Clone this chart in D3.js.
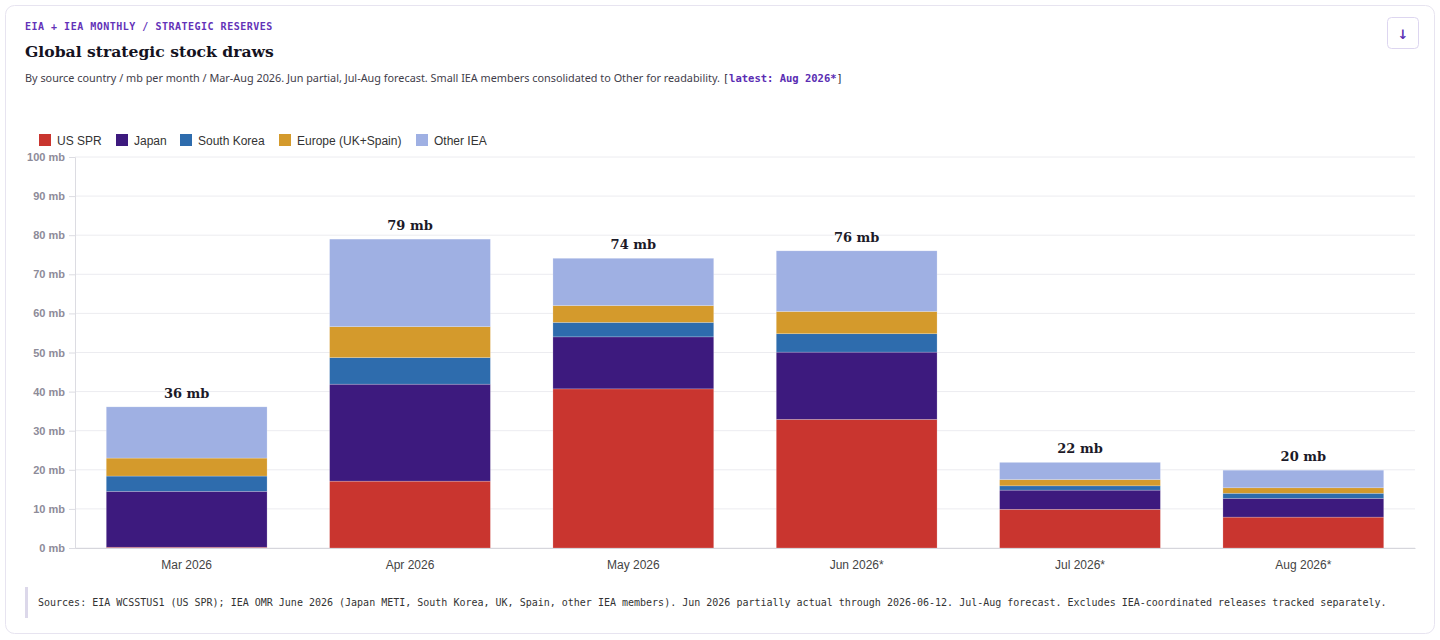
<!DOCTYPE html>
<html>
<head>
<meta charset="utf-8">
<script src="https://cdn.jsdelivr.net/npm/d3@7"></script>
<style>
  body { margin: 0; background: #fff; }
  svg { display: block; }
</style>
</head>
<body>
<div id="chart"></div>
<script>
// months + stacked series (mb per month)
const months = ["Mar 2026", "Apr 2026", "May 2026", "Jun 2026*", "Jul 2026*", "Aug 2026*"];
const seriesNames = ["US SPR", "Japan", "South Korea", "Europe (UK+Spain)", "Other IEA"];
const usSpr      = [0.2, 17.1, 40.7, 32.9, 9.9, 7.9];
const japan      = [14.3, 24.8, 13.3, 17.2, 4.9, 4.8];
const southKorea = [3.9, 6.8, 3.7, 4.7, 1.1, 1.3];
const europe     = [4.6, 7.9, 4.3, 5.7, 1.6, 1.4];
const otherIea   = [13.1, 22.4, 12.1, 15.5, 4.4, 4.5];
const totals     = [36, 79, 74, 76, 22, 20];
const yTicks     = [0, 10, 20, 30, 40, 50, 60, 70, 80, 90, 100];

const colors = ["#c9352f", "#3d1a7e", "#2e6cad", "#d49a2c", "#9fb0e3"];

const W = 1440, H = 640;
const margin = {top: 157, right: 25, bottom: 92, left: 75};

const svg = d3.select("#chart").append("svg")
    .attr("width", W)
    .attr("height", H);

// card
svg.append("rect")
    .attr("x", 5.5).attr("y", 5.5)
    .attr("width", W - 11).attr("height", H - 12)
    .attr("rx", 9)
    .attr("fill", "#fff")
    .attr("stroke", "#e7e4f0");

// header
svg.append("text")
    .attr("x", 25).attr("y", 30)
    .style("font-family", "'DejaVu Sans Mono', monospace")
    .style("font-size", "10px")
    .style("font-weight", "bold")
    .style("letter-spacing", "0.5px")
    .attr("fill", "#6332b8")
    .text("EIA + IEA MONTHLY / STRATEGIC RESERVES");

svg.append("text")
    .attr("x", 25).attr("y", 57)
    .style("font-family", "'DejaVu Serif', serif")
    .style("font-size", "15.6px")
    .style("font-weight", "bold")
    .attr("fill", "#15131f")
    .text("Global strategic stock draws");

const sub = svg.append("text")
    .attr("x", 25).attr("y", 82)
    .style("font-family", "'Noto Sans', sans-serif")
    .style("font-size", "10.85px")
    .attr("fill", "#3f3d4a");
sub.append("tspan")
    .text("By source country / mb per month / Mar-Aug 2026. Jun partial, Jul-Aug forecast. Small IEA members consolidated to Other for readability. ");
sub.append("tspan")
    .style("font-family", "'DejaVu Sans Mono', monospace")
    .style("font-size", "10.5px")
    .attr("fill", "#2b2838")
    .text("[");
sub.append("tspan")
    .style("font-family", "'DejaVu Sans Mono', monospace")
    .style("font-size", "10.5px")
    .style("font-weight", "bold")
    .attr("fill", "#5a2db3")
    .text("latest: Aug 2026*");
sub.append("tspan")
    .style("font-family", "'DejaVu Sans Mono', monospace")
    .style("font-size", "10.5px")
    .attr("fill", "#2b2838")
    .text("]");

// download button
const btn = svg.append("g").attr("transform", "translate(1387.5,17.5)");
btn.append("rect")
    .attr("width", 31).attr("height", 31).attr("rx", 4)
    .attr("fill", "#fff").attr("stroke", "#ddd6f0");
btn.append("text")
    .attr("x", 15.5).attr("y", 21)
    .attr("text-anchor", "middle")
    .style("font-family", "'DejaVu Sans', sans-serif")
    .style("font-size", "13px")
    .style("font-weight", "bold")
    .attr("fill", "#5a2db3")
    .text("↓");

// legend
const legendX = [39, 116, 180, 279, 416];
const legend = svg.append("g").attr("transform", "translate(0,134)");
seriesNames.forEach(function(name, i) {
  const g = legend.append("g").attr("transform", `translate(${legendX[i]},0)`);
  g.append("rect").attr("width", 12).attr("height", 12).attr("fill", colors[i]);
  g.append("text")
    .attr("x", 18).attr("y", 10.5)
    .style("font-family", "'Liberation Sans', Arial, sans-serif")
    .style("font-size", "12px")
    .attr("fill", "#333")
    .text(name);
});

// scales
const plotW = W - margin.left - margin.right;
const plotH = H - margin.top - margin.bottom;

const plot = svg.append("g")
    .attr("transform", `translate(${margin.left},${margin.top})`);

const x = d3.scaleBand()
    .domain(months)
    .range([0, plotW])
    .paddingInner(0.28)
    .paddingOuter(0.14);

const y = d3.scaleLinear()
    .domain([0, 100])
    .range([plotH, 0]);

// grid
plot.append("g")
  .selectAll("line")
  .data(yTicks)
  .join("line")
    .attr("x1", 0).attr("x2", plotW)
    .attr("y1", d => y(d)).attr("y2", d => y(d))
    .attr("stroke", "#ececf0");

// y axis
const yAxis = plot.append("g")
    .call(d3.axisLeft(y).tickValues(yTicks).tickSize(6).tickPadding(4).tickFormat(d => d + " mb"));
yAxis.select(".domain").attr("stroke", "#dcdce2");
yAxis.selectAll(".tick line").attr("stroke", "#dcdce2");
yAxis.selectAll(".tick text")
    .style("font-family", "'Liberation Sans', Arial, sans-serif")
    .style("font-size", "11px")
    .style("font-weight", "bold")
    .attr("fill", "#8d8b99");

// stacked bars
const rows = months.map(function(m, i) {
  return {month: m, "US SPR": usSpr[i], "Japan": japan[i], "South Korea": southKorea[i],
          "Europe (UK+Spain)": europe[i], "Other IEA": otherIea[i], total: totals[i]};
});
const stacked = d3.stack().keys(seriesNames)(rows);

plot.append("g")
  .selectAll("g")
  .data(stacked)
  .join("g")
    .attr("fill", (d, i) => colors[i])
  .selectAll("rect")
  .data(d => d)
  .join("rect")
    .attr("x", d => x(d.data.month))
    .attr("width", x.bandwidth())
    .attr("y", d => y(d[1]))
    .attr("height", d => y(d[0]) - y(d[1]))
    .attr("stroke", "rgba(255,255,255,0.35)")
    .attr("stroke-width", 0.6);

// x axis
const xAxis = plot.append("g")
    .attr("transform", `translate(0,${plotH})`)
    .call(d3.axisBottom(x).tickSize(0).tickPadding(12));
xAxis.select(".domain").attr("stroke", "#d6d6dc");
xAxis.selectAll(".tick text")
    .style("font-family", "'Liberation Sans', Arial, sans-serif")
    .style("font-size", "12px")
    .attr("fill", "#444");

// totals above bars
plot.append("g")
  .selectAll("text")
  .data(rows)
  .join("text")
    .attr("x", d => x(d.month) + x.bandwidth() / 2)
    .attr("y", d => y(d3.sum(seriesNames, k => d[k])) - 9)
    .attr("text-anchor", "middle")
    .style("font-family", "'DejaVu Serif', serif")
    .style("font-size", "13px")
    .style("font-weight", "bold")
    .attr("fill", "#1c1a28")
    .text(d => d.total + " mb");

// footer note
svg.append("rect")
    .attr("x", 25).attr("y", 587)
    .attr("width", 3).attr("height", 31)
    .attr("fill", "#dcd8ea");
svg.append("text")
    .attr("x", 38).attr("y", 606)
    .style("font-family", "'DejaVu Sans Mono', monospace")
    .style("font-size", "10px")
    .attr("fill", "#333")
    .text("Sources: EIA WCSSTUS1 (US SPR); IEA OMR June 2026 (Japan METI, South Korea, UK, Spain, other IEA members). Jun 2026 partially actual through 2026-06-12. Jul-Aug forecast. Excludes IEA-coordinated releases tracked separately.");
</script>
</body>
</html>
